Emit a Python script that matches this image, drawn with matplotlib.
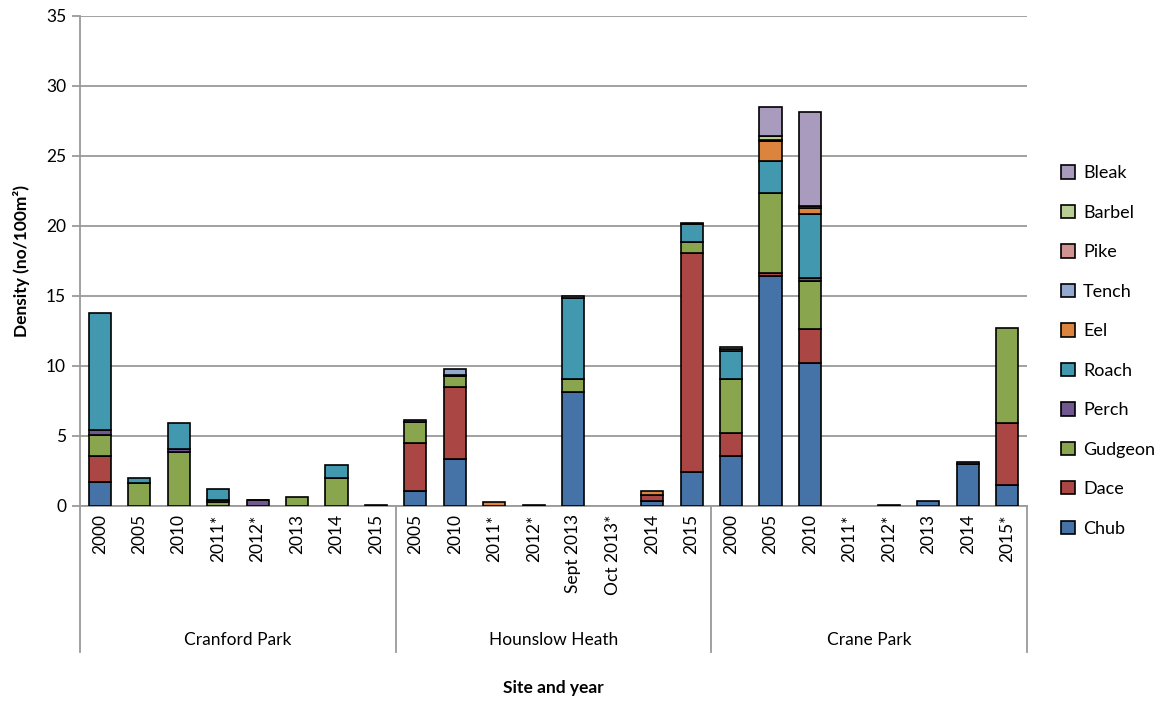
import numpy as np
import matplotlib
matplotlib.use("Agg")
import matplotlib.pyplot as plt

plt.rcParams['font.family'] = ['Lato', 'DejaVu Sans']

years = ["2000", "2005", "2010", "2011*", "2012*", "2013", "2014", "2015",
         "2005", "2010", "2011*", "2012*", "Sept 2013", "Oct 2013*", "2014", "2015",
         "2000", "2005", "2010", "2011*", "2012*", "2013", "2014", "2015*"]
sites = ["Cranford Park", "Hounslow Heath", "Crane Park"]
site_sizes = [8, 8, 8]

species = ["Chub", "Dace", "Gudgeon", "Perch", "Roach", "Eel", "Tench", "Pike", "Barbel", "Bleak"]
colors = ["#4572A7", "#AA4643", "#89A54E", "#71588F", "#4198AF",
          "#DB843D", "#93A9CF", "#D19392", "#B9CD96", "#A99BBD"]

#          Cranford Park                              Hounslow Heath                                 Crane Park
chub    = [1.74, 0, 0, 0, 0, 0, 0, 0,                 1.05, 3.36, 0, 0, 8.12, 0, 0.33, 2.45,        3.6, 16.45, 10.2, 0, 0, 0.38, 3.0, 1.5]
dace    = [1.86, 0, 0, 0, 0, 0, 0, 0,                 3.47, 5.12, 0, 0, 0, 0, 0.43, 15.6,           1.64, 0.2, 2.42, 0, 0, 0, 0, 4.43]
gudgeon = [1.47, 1.62, 3.86, 0.3, 0, 0.62, 1.98, 0,   1.48, 0.81, 0, 0, 0.95, 0, 0, 0.81,           3.81, 5.7, 3.48, 0, 0, 0, 0, 6.76]
perch   = [0.36, 0, 0.21, 0.1, 0.4, 0, 0, 0,          0.15, 0.1, 0, 0, 0, 0, 0, 0,                  0, 0, 0.21, 0, 0, 0, 0.15, 0]
roach   = [8.37, 0.4, 1.88, 0.8, 0, 0, 0.95, 0.1,     0, 0, 0, 0, 5.76, 0, 0, 1.28,                 2.05, 2.3, 4.57, 0, 0, 0, 0, 0]
eel     = [0, 0, 0, 0, 0.05, 0, 0, 0,                 0, 0, 0.28, 0, 0, 0, 0.31, 0,                 0, 1.41, 0.42, 0, 0, 0, 0, 0]
tench   = [0, 0, 0, 0, 0, 0, 0, 0,                    0, 0.38, 0, 0.1, 0.15, 0, 0, 0.06,            0.12, 0, 0.1, 0, 0.1, 0, 0, 0]
pike    = [0, 0, 0, 0, 0, 0, 0, 0,                    0, 0, 0, 0, 0, 0, 0, 0,                       0, 0.05, 0, 0, 0, 0, 0, 0]
barbel  = [0, 0, 0, 0, 0, 0, 0, 0,                    0, 0, 0, 0, 0, 0, 0, 0,                       0.15, 0.32, 0, 0, 0, 0, 0, 0]
bleak   = [0, 0, 0, 0, 0, 0, 0, 0,                    0, 0, 0, 0, 0, 0, 0, 0,                       0, 2.1, 6.74, 0, 0, 0, 0, 0]

data = [chub, dace, gudgeon, perch, roach, eel, tench, pike, barbel, bleak]

W, H = 1167, 702
fig = plt.figure(figsize=(W / 100, H / 100), dpi=100)
ax = fig.add_axes([80 / W, 1 - 506 / H, 947 / W, 490 / H])

x = np.arange(len(years))
bottom = np.zeros(len(years))
handles = []
for name, vals, c in zip(species, data, colors):
    vals = np.array(vals, dtype=float)
    keep = vals > 0
    ax.bar(x[keep], vals[keep], bottom=bottom[keep], width=0.56, color=c,
           edgecolor="black", linewidth=1.2, zorder=3)
    handles.append(plt.Rectangle((0, 0), 1, 1, facecolor=c, edgecolor="black", linewidth=1.2, label=name))
    bottom += vals

ax.set_xlim(-0.5, len(years) - 0.5)
ax.set_ylim(0, 35)
ax.set_yticks(range(0, 36, 5))
ax.yaxis.grid(True, color="#9a9a9a", linewidth=1.3, zorder=0)
ax.set_axisbelow(True)
for s in ["top", "right"]:
    ax.spines[s].set_visible(False)
for s in ["left", "bottom"]:
    ax.spines[s].set_color("#9a9a9a")
    ax.spines[s].set_linewidth(1.3)
ax.tick_params(axis="y", length=6, width=1.3, color="#9a9a9a", labelsize=12.5, pad=4)
ax.set_xticks(x)
ax.set_xticklabels(years, rotation=90, fontsize=12.5)
ax.tick_params(axis="x", length=0, pad=6)

# site dividers and names below the year labels
tr = ax.get_xaxis_transform()
drop = -(652 - 506) / 490
edges = np.concatenate([[0], np.cumsum(site_sizes)]) - 0.5
for e in edges:
    ax.plot([e, e], [0, drop], transform=tr, color="#9a9a9a", linewidth=1.3, clip_on=False)
for i, name in enumerate(sites):
    mid = (edges[i] + edges[i + 1]) / 2
    ax.text(mid, -(640 - 506) / 490, name, transform=tr, ha="center", va="center", fontsize=12.5)

fig.text(553 / W, 1 - 688 / H, "Site and year", ha="center", va="center", fontsize=12.5, fontweight="bold")
fig.text(22 / W, 1 - 261 / H, "Density (no/100m²)", ha="center", va="center", rotation=90,
         fontsize=12.5, fontweight="bold")

fig.legend(handles=handles[::-1], loc="center left", bbox_to_anchor=(1045 / W, 1 - 351 / H),
           frameon=False, fontsize=13, handlelength=0.75, handleheight=0.75, handletextpad=0.45,
           labelspacing=1.3)

fig.savefig("out.png", dpi=100)
